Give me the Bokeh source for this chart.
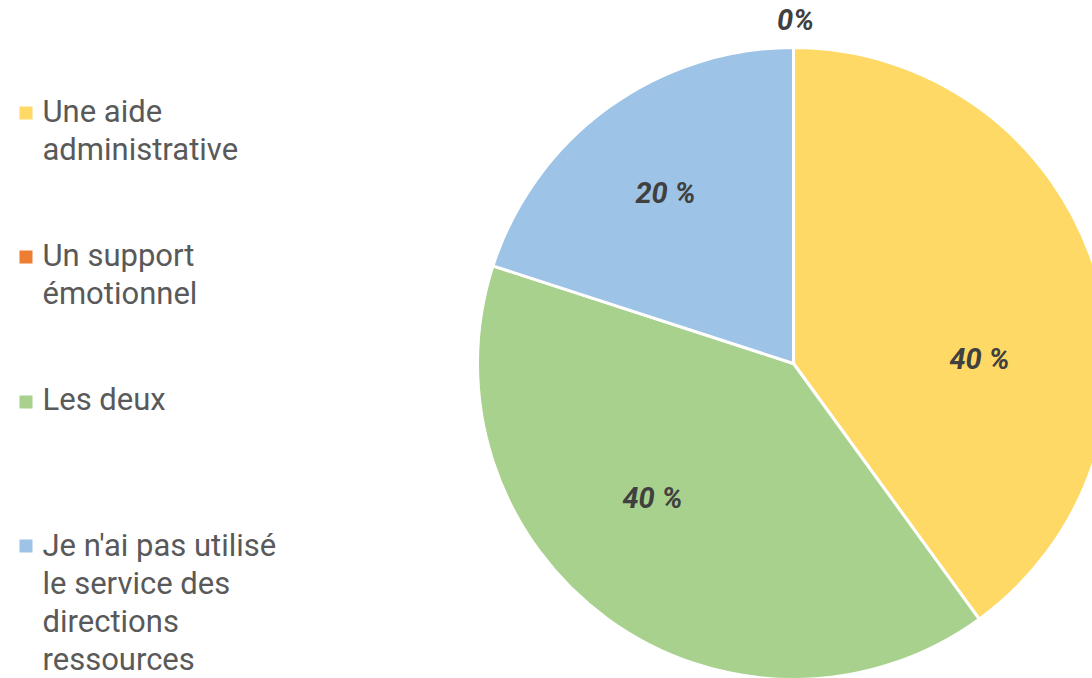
import math
from bokeh.plotting import figure
from bokeh.models import Range1d, ColumnDataSource
from bokeh.core.properties import value
from bokeh.embed import file_html
from bokeh.resources import INLINE

# ---- data ----
categories = ["Une aide administrative", "Un support émotionnel", "Les deux",
              "Je n'ai pas utilisé le service des directions ressources"]
values = [40, 0, 40, 20]
label_texts = ["40 %", "0%", "40 %", "20 %"]
colors = ["#FFD966", "#ED7D31", "#A9D18E", "#9DC3E6"]
legend_lines = [["Une aide", "administrative"],
                ["Un support", "émotionnel"],
                ["Les deux"],
                ["Je n'ai pas utilisé", "le service des", "directions", "ressources"]]

# ---- layout (screen pixel positions) ----
W, H = 1092, 678
def sx(x): return x
def sy(y): return H - y

cx, cy, R = sx(793), sy(363), 316
label_pos = [(979, 358), (795, 19), (652, 497), (665, 192)]   # baselines
legend_first_baseline = [111, 255, 399, 545]
legend_square_top = [106, 250, 395, 539]
line_gap = 38

p = figure(width=W, height=H, x_range=Range1d(0, W), y_range=Range1d(0, H),
           output_backend="svg", toolbar_location=None, min_border=0)
p.axis.visible = False
p.grid.visible = False
p.outline_line_color = None
p.background_fill_color = "white"
p.border_fill_color = "white"

total = sum(values)
starts, ends, wcols = [], [], []
cum = 0
for v, c in zip(values, colors):
    a0 = math.pi / 2 - cum / total * 2 * math.pi
    a1 = a0 - v / total * 2 * math.pi
    cum += v
    if v > 0:
        starts.append(a1)
        ends.append(a0)
        wcols.append(c)
src = ColumnDataSource(dict(x=[cx] * len(starts), y=[cy] * len(starts),
                            s=starts, e=ends, c=wcols))
p.wedge(x="x", y="y", radius=R, start_angle="s", end_angle="e", source=src,
        fill_color="c", line_color="white", line_width=3)

# data labels
lsrc = ColumnDataSource(dict(x=[sx(a) for a, b in label_pos],
                             y=[sy(b) for a, b in label_pos], t=label_texts))
p.text(x="x", y="y", text="t", source=lsrc, text_font=value("Roboto"),
       text_font_style="bold italic", text_font_size="29px", text_color="#404040",
       text_align="center", text_baseline="alphabetic")

# legend
sq_x, sq_y, sq_c = [], [], []
tx, ty, tt = [], [], []
for i, lines in enumerate(legend_lines):
    sq_x.append(sx(25.5))
    sq_y.append(sy(legend_square_top[i] + 6.5))
    sq_c.append(colors[i])
    for j, ln in enumerate(lines):
        tx.append(sx(42))
        ty.append(sy(legend_first_baseline[i] + j * line_gap))
        tt.append(ln)
p.rect(x=sq_x, y=sq_y, width=13, height=13, fill_color=sq_c, line_color=None)
p.text(x=tx, y=ty, text=tt, text_font=value("Roboto"), text_font_size="31px",
       text_color="#595959", text_align="left", text_baseline="alphabetic")

open("out.html", "w").write(file_html(p, INLINE))
